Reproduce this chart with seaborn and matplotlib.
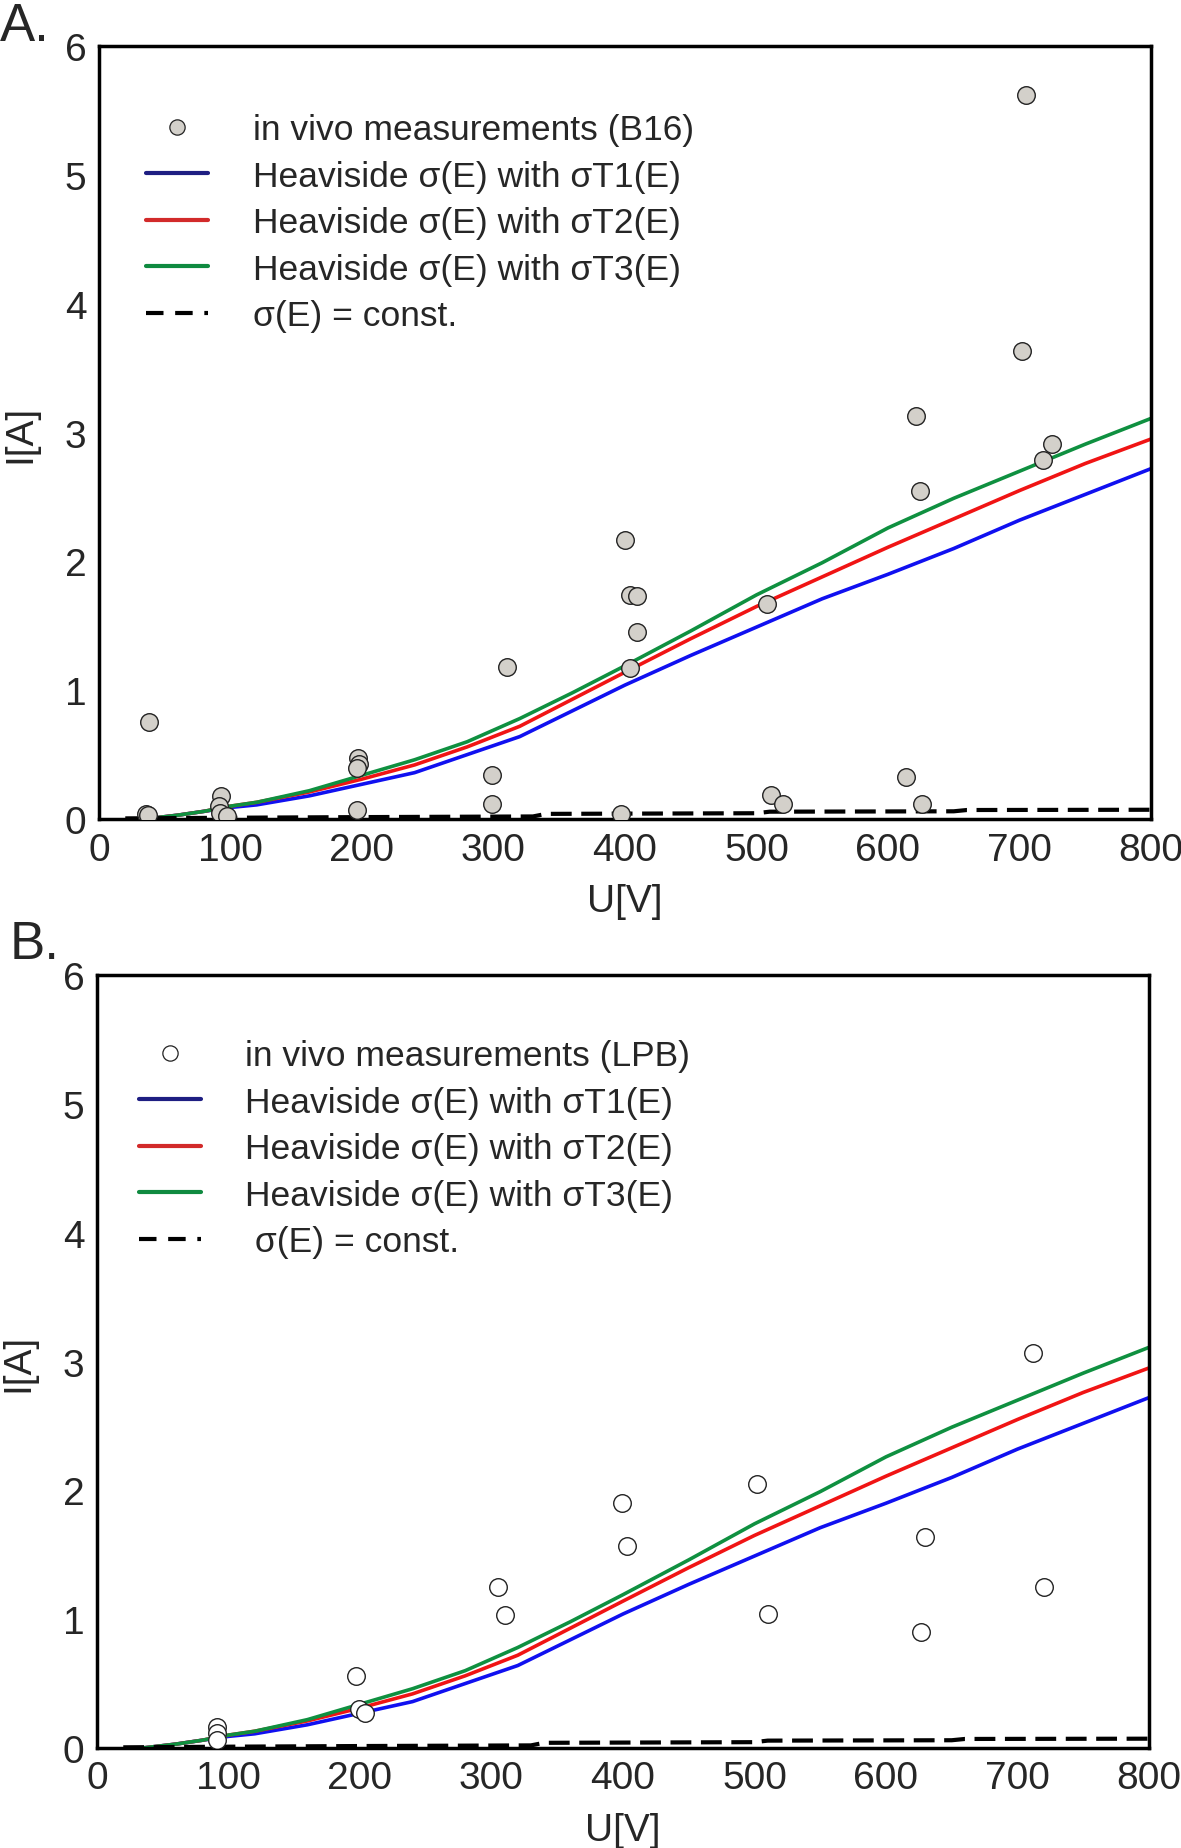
"""
Two-panel I-U plot: in vivo current measurements vs. model curves
(Heaviside sigma(E) with three threshold variants and constant sigma).
"""

import matplotlib
matplotlib.use("Agg")
import matplotlib.pyplot as plt
from matplotlib.lines import Line2D
import numpy as np
import pandas as pd
import seaborn as sns

# ---- model curves (shared by both panels) ----
curve_u = [35, 60, 80, 100, 120, 160, 200, 240, 280, 320, 360, 400,
           450, 500, 550, 600, 650, 700, 750, 800]
curve_t1 = [0.0, 0.03, 0.06, 0.09, 0.11, 0.18, 0.27, 0.36, 0.50, 0.64, 0.84, 1.04,
            1.27, 1.49, 1.71, 1.90, 2.10, 2.32, 2.52, 2.72]
curve_t2 = [0.0, 0.03, 0.06, 0.10, 0.13, 0.21, 0.31, 0.42, 0.56, 0.72, 0.93, 1.14,
            1.40, 1.65, 1.88, 2.11, 2.33, 2.55, 2.76, 2.95]
curve_t3 = [0.0, 0.03, 0.06, 0.10, 0.13, 0.22, 0.34, 0.46, 0.60, 0.78, 0.98, 1.19,
            1.46, 1.74, 1.99, 2.26, 2.49, 2.70, 2.91, 3.11]
const_u = [20, 100, 200, 330, 340, 500, 510, 650, 660, 800]
const_i = [0.005, 0.01, 0.015, 0.02, 0.04, 0.045, 0.057, 0.06, 0.07, 0.072]

# ---- measurements ----
b16_u = [38, 36, 37, 93, 91, 92, 97, 197, 198, 196, 196, 310, 299, 299,
         400, 404, 409, 409, 404, 397, 508, 511, 520, 614, 626,
         621, 624, 705, 702, 718, 725]
b16_i = [0.75, 0.04, 0.03, 0.18, 0.10, 0.05, 0.02, 0.47, 0.43, 0.40, 0.07, 1.18, 0.34, 0.12,
         2.17, 1.74, 1.73, 1.45, 1.17, 0.04, 1.67, 0.19, 0.12, 0.33, 0.12,
         3.13, 2.55, 5.62, 3.63, 2.79, 2.91]

lpb_u = [91, 91, 91, 197, 199, 204, 305, 310, 399, 403, 502, 510,
         627, 630, 712, 720]
lpb_i = [0.16, 0.12, 0.06, 0.56, 0.30, 0.27, 1.25, 1.03, 1.90, 1.57, 2.05, 1.04,
         0.90, 1.64, 3.07, 1.25]

BLUE, RED, GREEN = "#1010f0", "#f01414", "#0f9040"
LEG_BLUE, LEG_RED, LEG_GREEN = "#1e1e82", "#d22a2a", "#0f8a40"

sns.set_style("white")
plt.rcParams["font.family"] = ["Liberation Sans", "DejaVu Sans"]

LABELS = ["Heaviside σ(E) with σT1(E)",
          "Heaviside σ(E) with σT2(E)",
          "Heaviside σ(E) with σT3(E)"]


def draw_panel(ax, meas_u, meas_i, face, meas_label, const_label, leg_x, leg_y):
    curves = pd.DataFrame({"U": curve_u, "T1": curve_t1, "T2": curve_t2, "T3": curve_t3})
    sns.lineplot(data=curves, x="U", y="T1", color=BLUE, lw=2.6, ax=ax)
    sns.lineplot(data=curves, x="U", y="T2", color=RED, lw=2.6, ax=ax)
    sns.lineplot(data=curves, x="U", y="T3", color=GREEN, lw=2.6, ax=ax)
    sns.lineplot(x=const_u, y=const_i, color="black", lw=3.0, ax=ax,
                 linestyle=(0, (5, 2.3)))
    sns.scatterplot(x=meas_u, y=meas_i, ax=ax, s=160, color=face,
                    edgecolor="#222222", linewidth=1.0, zorder=5)

    ax.set_xlim(0, 800)
    ax.set_ylim(0, 6)
    ax.set_xticks(np.arange(0, 801, 100))
    ax.set_yticks(np.arange(0, 7, 1))
    ax.tick_params(length=0, labelsize=28, pad=9)
    for sp in ax.spines.values():
        sp.set_visible(True)
        sp.set_color("black")
        sp.set_linewidth(2.5)
    ax.set_xlabel("U[V]", fontsize=28)
    ax.set_ylabel("I[A]", fontsize=28)
    ax.xaxis.set_label_coords(0.5, -0.083)
    ax.yaxis.set_label_coords(-0.058, 0.5)

    handles = [
        Line2D([], [], ls="", marker="o", ms=11, mfc=face, mec="#222222", mew=0.9),
        Line2D([], [], color=LEG_BLUE, lw=3),
        Line2D([], [], color=LEG_RED, lw=3),
        Line2D([], [], color=LEG_GREEN, lw=3),
        Line2D([], [], color="black", lw=3, linestyle=(0, (4.2, 2.8))),
    ]
    ax.legend(handles, [meas_label] + LABELS + [const_label],
              loc="upper left", bbox_to_anchor=(leg_x, leg_y), frameon=False,
              prop={"family": ["Liberation Sans", "DejaVu Sans"], "size": 25.5},
              handlelength=1.75, handletextpad=1.25, labelspacing=0.38,
              borderpad=0, borderaxespad=0)


fig = plt.figure(figsize=(11.81, 18.49), dpi=100)
ax_a = fig.add_axes([0.0838, 0.5565, 0.8908, 0.418])
ax_b = fig.add_axes([0.0821, 0.0541, 0.8908, 0.418])

draw_panel(ax_a, b16_u, b16_i, "#d3d0ca", "in vivo measurements (B16)",
           "σ(E) = const.", 0.045, 0.913)
draw_panel(ax_b, lpb_u, lpb_i, "white", "in vivo measurements (LPB)",
           " σ(E) = const.", 0.04, 0.917)

fig.text(0.0, 0.999, "A.", fontsize=38, va="top", ha="left")
fig.text(0.008, 0.5025, "B.", fontsize=38, va="top", ha="left")

fig.savefig("out.png", dpi=100)
plt.close(fig)
